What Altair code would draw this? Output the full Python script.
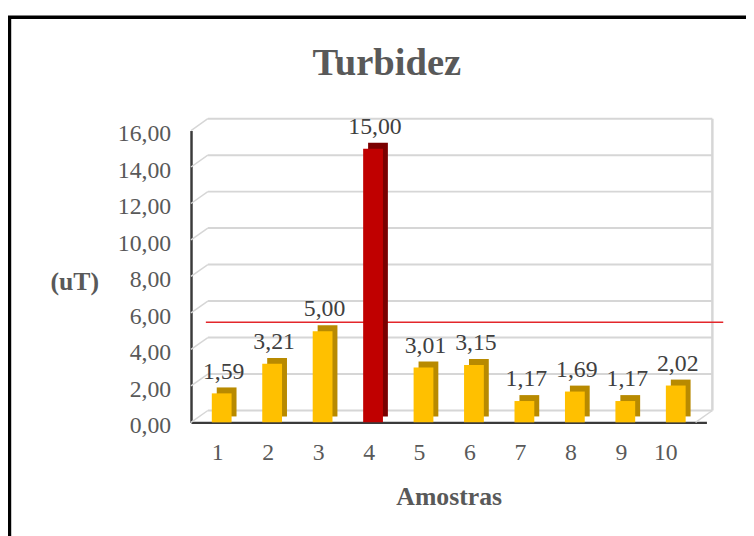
import altair as alt
import pandas as pd

# ---- data ----
amostras = ["1", "2", "3", "4", "5", "6", "7", "8", "9", "10"]
turbidez = [1.59, 3.21, 5.00, 15.00, 3.01, 3.15, 1.17, 1.69, 1.17, 2.02]
limite = [5.0]
y_ticks = [0, 2, 4, 6, 8, 10, 12, 14, 16]
titulo = "Turbidez"
titulo_x = "Amostras"
titulo_y = "(uT)"

df = pd.DataFrame({"amostra": amostras, "turbidez": turbidez})
grid_df = pd.DataFrame({"v": y_ticks})
lim_df = pd.DataFrame({"v": limite})

# ---- layout ----
W, H = 521, 295
DX, DY = 17, 12          # depth of the pseudo-3D back wall
FONT = "Liberation Serif"
GREY = "#595959"
GRID = "#D6D6D6"

x_scale = alt.Scale(domain=amostras, paddingInner=0, paddingOuter=0.108)
y_scale = alt.Scale(domain=[0, 16], nice=False, zero=True)
virgula = "replace(format(datum.{}, '.2f'), '.', ',')"

border = alt.Chart(lim_df).mark_rect(filled=False, color="black", strokeWidth=3.5).encode(
    x=alt.value(-183.5), x2=alt.value(800), y=alt.value(-114.5), y2=alt.value(700)
)

grid = alt.Chart(grid_df).mark_rule(color=GRID, strokeWidth=2, yOffset=-DY).encode(
    y=alt.Y("v:Q", scale=y_scale),
    x=alt.value(DX), x2=alt.value(W + 6),
)
diag = alt.Chart(grid_df).mark_rule(color=GRID, strokeWidth=1.5, y2Offset=-DY).encode(
    y=alt.Y("v:Q", scale=y_scale), y2="v:Q",
    x=alt.value(0), x2=alt.value(DX),
)
right_edge = alt.Chart(grid_df).mark_rule(color=GRID, strokeWidth=2.5, yOffset=-DY, y2Offset=-DY).encode(
    y=alt.Y("min(v):Q", scale=y_scale), y2="max(v):Q",
    x=alt.value(W + 6),
)
floor_edge = alt.Chart(grid_df).mark_rule(color=GRID, strokeWidth=1.5, y2Offset=-DY).encode(
    y=alt.Y("min(v):Q", scale=y_scale), y2="min(v):Q",
    x=alt.value(W - 11), x2=alt.value(W + 6),
)

# y tick labels (comma decimal), placed through the y scale
y_labels = alt.Chart(grid_df).transform_calculate(
    rot=virgula.format("v")
).mark_text(
    font=FONT, fontSize=24, color=GREY, align="right", baseline="middle", dy=4
).encode(
    y=alt.Y("v:Q", scale=y_scale), x=alt.value(-20), text="rot:N"
)

lim_line = alt.Chart(lim_df).mark_rule(color="#E3262B", strokeWidth=1.5, yOffset=-9).encode(
    y=alt.Y("v:Q", scale=y_scale),
    x=alt.value(15), x2=alt.value(538),
)

acima = alt.datum.turbidez > limite[0]

shadow = alt.Chart(df).mark_bar(size=20, xOffset=5, yOffset=-6, y2Offset=-6).encode(
    x=alt.X("amostra:N", scale=x_scale, sort=amostras),
    y=alt.Y("turbidez:Q", scale=y_scale),
    color=alt.condition(acima, alt.value("#7A0000"), alt.value("#B88A00")),
)

bars = alt.Chart(df).mark_bar(size=20).encode(
    x=alt.X(
        "amostra:N", scale=x_scale, sort=amostras,
        axis=alt.Axis(
            title=titulo_x, labelAngle=0, labelOffset=2, labelPadding=31,
            labelBaseline="middle", titleBaseline="middle", titleY=75,
            labelOverlap=False,
        ),
    ),
    y=alt.Y(
        "turbidez:Q", scale=y_scale,
        axis=alt.Axis(
            title=titulo_y, labels=False,
            titleAngle=0, titleAlign="center", titleBaseline="middle",
            titleX=-118, titleY=153,
        ),
    ),
    color=alt.condition(acima, alt.value("#C00000"), alt.value("#FFC000")),
)

labels = alt.Chart(df).transform_calculate(
    rotulo=virgula.format("turbidez")
).mark_text(
    font=FONT, fontSize=24, color="#404040", baseline="alphabetic", dy=-15, dx=2
).encode(
    x=alt.X("amostra:N", scale=x_scale, sort=amostras),
    y=alt.Y("turbidez:Q", scale=y_scale),
    text="rotulo:N",
)

title = alt.Chart(lim_df).mark_text(
    text=titulo, font=FONT, fontSize=39, fontWeight="bold", color=GREY,
    align="center", baseline="alphabetic",
).encode(x=alt.value(198), y=alt.value(-56))

chart = alt.layer(
    border, grid, diag, right_edge, floor_edge, y_labels, lim_line, shadow, bars, labels, title
).properties(
    width=W, height=H,
    autosize=alt.AutoSizeParams(type="none"),
    padding={"left": 185, "top": 121, "right": 40, "bottom": 112},
    background="white",
).configure_view(
    strokeWidth=0
).configure_axis(
    ticks=False, grid=False, domainColor="#3A3A3A", domainWidth=2.5,
    labelFont=FONT, labelFontSize=24, labelColor=GREY,
    titleFont=FONT, titleFontSize=26, titleFontWeight="bold", titleColor=GREY,
)

chart.save("out.html", embed_options={"renderer": "svg", "actions": False})
